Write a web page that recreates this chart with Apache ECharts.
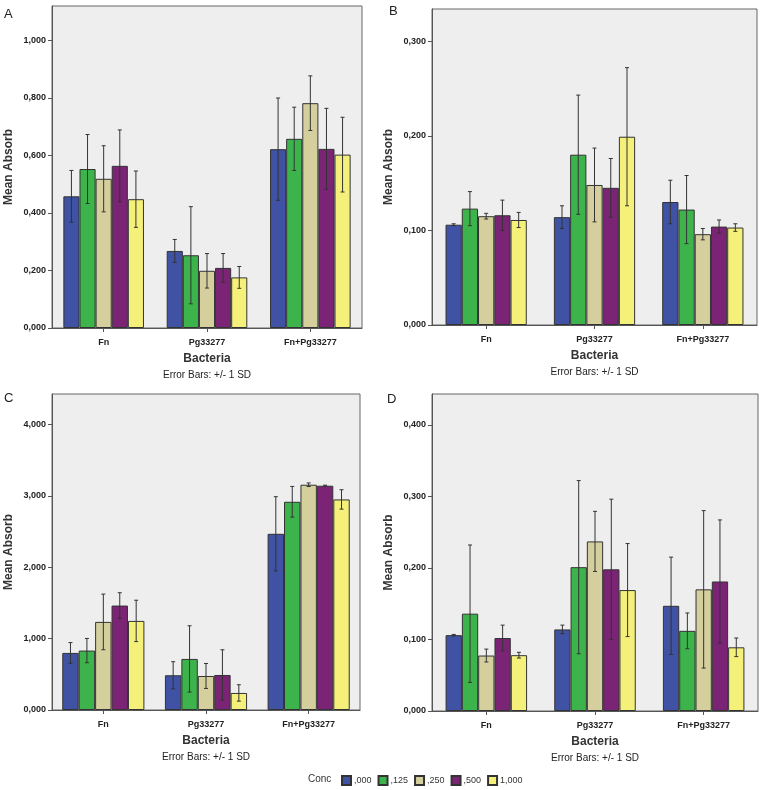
<!DOCTYPE html>
<html><head><meta charset="utf-8">
<script src="https://cdn.jsdelivr.net/npm/echarts@6/dist/echarts.min.js"></script>
<style>html,body{margin:0;padding:0;background:#fff}#c{width:763px;height:790px}</style>
</head><body><div id="c"></div>
<script>
// ---------- data ----------
const categories = ['Fn', 'Pg33277', 'Fn+Pg33277'];
const concNames = [',000', ',125', ',250', ',500', '1,000'];
const panelLabels = ['A', 'B', 'C', 'D'];

// means per concentration (Fn, Pg33277, Fn+Pg33277)
const meanA = [[0.458, 0.268, 0.622], [0.553, 0.253, 0.658], [0.519, 0.199, 0.782], [0.564, 0.209, 0.623], [0.448, 0.176, 0.603]];
const sdA   = [[0.090, 0.040, 0.178], [0.120, 0.169, 0.110], [0.115, 0.060, 0.095], [0.125, 0.050, 0.141], [0.098, 0.038, 0.130]];
const meanB = [[0.106, 0.114, 0.130], [0.123, 0.180, 0.122], [0.115, 0.148, 0.096], [0.116, 0.145, 0.104], [0.111, 0.199, 0.103]];
const sdB   = [[0.001, 0.012, 0.023], [0.018, 0.063, 0.036], [0.003, 0.039, 0.006], [0.016, 0.031, 0.007], [0.008, 0.073, 0.004]];
const meanC = [[0.800, 0.487, 2.470], [0.833, 0.716, 2.919], [1.235, 0.477, 3.158], [1.464, 0.491, 3.144], [1.249, 0.239, 2.952]];
const sdC   = [[0.145, 0.190, 0.520], [0.170, 0.465, 0.215], [0.390, 0.175, 0.025], [0.180, 0.353, 0.008], [0.290, 0.115, 0.136]];
const meanD = [[0.106, 0.114, 0.147], [0.136, 0.201, 0.112], [0.0775, 0.237, 0.170], [0.102, 0.198, 0.181], [0.078, 0.169, 0.089]];
const sdD   = [[0.001, 0.006, 0.068], [0.096, 0.121, 0.025], [0.009, 0.042, 0.110], [0.018, 0.098, 0.086], [0.004, 0.065, 0.013]];

// axis scales and tick values
const yMax   = [1.12, 0.334, 4.43, 0.443];
const yTicksA = [0, 0.2, 0.4, 0.6, 0.8, 1.0];
const yTicksB = [0, 0.1, 0.2, 0.3];
const yTicksC = [0, 1, 2, 3, 4];
const yTicksD = [0, 0.1, 0.2, 0.3, 0.4];

// ---------- style ----------
const colors = ['#3f52a3', '#3db44b', '#d4cf9d', '#7b2475', '#f5f07a'];
const FONT = '"Liberation Sans", Arial, sans-serif';
const grids = [
  {left: 52, top: 6, width: 310, height: 322, gap: 0.22},
  {left: 432, top: 9, width: 325, height: 316, gap: 0.25},
  {left: 52, top: 394, width: 308, height: 316, gap: 0.20},
  {left: 432, top: 394, width: 326, height: 317, gap: 0.25}
];
const means = [meanA, meanB, meanC, meanD];
const sds = [sdA, sdB, sdC, sdD];
const yTicks = [yTicksA, yTicksB, yTicksC, yTicksD];

const chart = echarts.init(document.getElementById('c'), null, {renderer: 'canvas'});

const option = {
  backgroundColor: '#ffffff',
  animation: false,
  textStyle: {fontFamily: FONT},
  title: [],
  grid: [], xAxis: [], yAxis: [], series: [],
  legend: {
    data: concNames, left: 341, top: 775, padding: 0, itemWidth: 9, itemHeight: 9, itemGap: 6,
    icon: 'rect', textStyle: {fontSize: 9, color: '#333', fontFamily: FONT, padding: [0, 0, 0, -2]},
    selectedMode: false
  }
};

const labelPos = [[4, 8], [389, 5], [4, 392], [387, 393]];
grids.forEach((g, p) => {
  option.grid.push({left: g.left, top: g.top, width: g.width, height: g.height, show: true,
    backgroundColor: '#eeeeee', borderColor: '#666', borderWidth: 1, containLabel: false});
  option.title.push({text: panelLabels[p], left: labelPos[p][0], top: labelPos[p][1], padding: 0,
    textStyle: {fontSize: 13, fontWeight: 'normal', color: '#222', fontFamily: FONT}});
  option.title.push({text: 'Error Bars: +/- 1 SD', left: g.left + g.width / 2, top: g.top + g.height + 42, padding: 0,
    textAlign: 'center', textStyle: {fontSize: 10, fontWeight: 'normal', color: '#222', fontFamily: FONT}});
  option.xAxis.push({
    type: 'category', gridIndex: p, data: categories,
    name: 'Bacteria', nameLocation: 'middle', nameGap: 25,
    nameTextStyle: {fontSize: 12, fontWeight: 'bold', color: '#333', fontFamily: FONT},
    axisLine: {show: true, lineStyle: {color: '#555'}},
    axisTick: {show: true, alignWithLabel: true, length: 4, lineStyle: {color: '#555'}},
    axisLabel: {fontSize: 9, fontWeight: 'bold', color: '#222', margin: 10, fontFamily: FONT}
  });
  option.yAxis.push({
    type: 'value', gridIndex: p, min: 0, max: yMax[p],
    name: 'Mean Absorb', nameLocation: 'middle', nameGap: 37,
    nameTextStyle: {fontSize: 12, fontWeight: 'bold', color: '#333', fontFamily: FONT},
    axisLine: {show: true, lineStyle: {color: '#555'}},
    axisTick: {show: true, length: 4, lineStyle: {color: '#555'}, customValues: yTicks[p]},
    splitLine: {show: false},
    axisLabel: {fontSize: 9, fontWeight: 'bold', color: '#222', margin: 6, fontFamily: FONT,
      customValues: yTicks[p],
      formatter: v => v.toFixed(3).replace('.', ',')}
  });
  const gap = g.gap;
  concNames.forEach((name, s) => {
    option.series.push({
      type: 'bar', name: name, xAxisIndex: p, yAxisIndex: p,
      data: means[p][s], barGap: '0%', barCategoryGap: (gap * 100) + '%',
      itemStyle: {color: colors[s], borderColor: '#333', borderWidth: 1}
    });
  });
  const errData = [];
  concNames.forEach((name, s) => {
    categories.forEach((c, ci) => errData.push([ci, s, means[p][s][ci], sds[p][s][ci]]));
  });
  option.series.push({
    type: 'custom', xAxisIndex: p, yAxisIndex: p, z: 10, silent: true,
    data: errData, encode: {x: 0, y: 2},
    renderItem: (params, api) => {
      const ci = api.value(0), s = api.value(1), m = api.value(2), sd = api.value(3);
      const catW = api.size([1, 0])[0];
      const bw = catW * (1 - gap) / 5;
      const c = api.coord([ci, m]);
      const x = c[0] + (s - 2) * bw;
      const yt = api.coord([ci, m + sd])[1];
      const yb = api.coord([ci, m - sd])[1];
      const st = {stroke: '#333', lineWidth: 1};
      const cap = 2;
      return {type: 'group', children: [
        {type: 'line', shape: {x1: x, y1: yt, x2: x, y2: yb}, style: st},
        {type: 'line', shape: {x1: x - cap, y1: yt, x2: x + cap, y2: yt}, style: st},
        {type: 'line', shape: {x1: x - cap, y1: yb, x2: x + cap, y2: yb}, style: st}
      ]};
    }
  });
});
option.title.push({text: 'Conc', left: 308, top: 774, padding: 0,
  textStyle: {fontSize: 10, fontWeight: 'normal', color: '#333', fontFamily: FONT}});

chart.setOption(option);
</script>
</body></html>
